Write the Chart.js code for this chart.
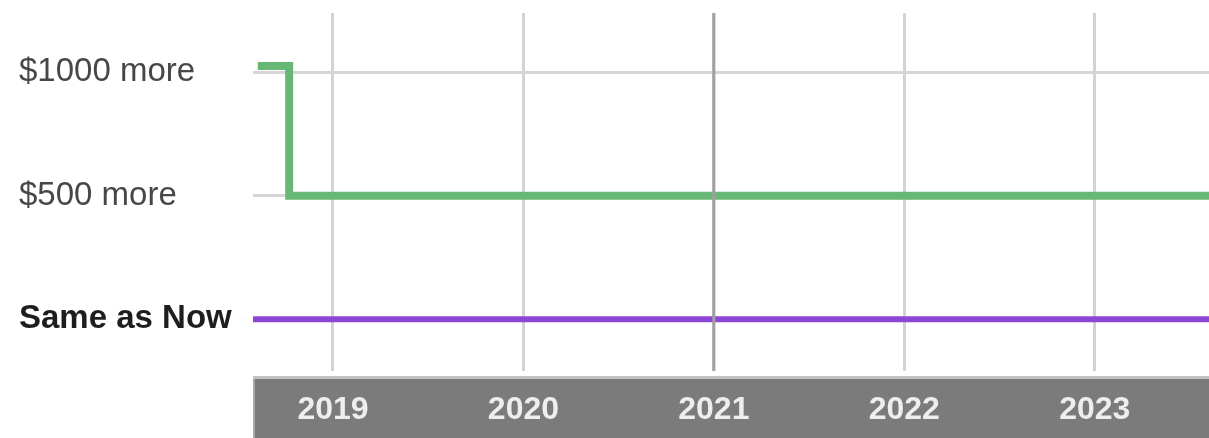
<!DOCTYPE html>
<html>
<head>
<meta charset="utf-8">
<script src="https://cdn.jsdelivr.net/npm/chart.js@4"></script>
<style>
  html, body { margin: 0; padding: 0; background: #ffffff; }
  #wrap { width: 1209px; height: 438px; position: relative; }
</style>
</head>
<body>
<div id="wrap"><canvas id="c"></canvas></div>
<script>
// ---- data ----
const yearTicks = [2019, 2020, 2021, 2022, 2023];
const highlightYear = 2021;
const levelValues = [0, 500, 1000];
const levelLabels = ['Same as Now', '$500 more', '$1000 more'];
const xRange = [2018.58, 2023.6];
const yRange = [-210, 1240];
const greenX = [2018.605, 2018.77, 2023.6];
const greenY = [1025, 500, 500];
const purpleX = [2018.58, 2023.6];
const purpleY = [0, 0];

const FONT = "'Liberation Sans', Arial, sans-serif";

const greenData = greenX.map((x, i) => ({ x: x, y: greenY[i] }));
const purpleData = purpleX.map((x, i) => ({ x: x, y: purpleY[i] }));

const axisBoxPlugin = {
  id: 'axisBox',
  beforeDraw(chart) {
    const { ctx, chartArea } = chart;
    const xs = chart.scales.x;
    const top = xs.top + 5;
    ctx.save();
    ctx.fillStyle = '#7b7b7b';
    ctx.fillRect(chartArea.left, top, chart.width - chartArea.left, chart.height - top);
    ctx.fillStyle = '#c2c2c2';
    ctx.fillRect(chartArea.left, top, chart.width - chartArea.left, 3);
    ctx.fillStyle = '#a8a8a8';
    ctx.fillRect(chartArea.left, top + 3, 2, chart.height - top - 3);
    ctx.restore();
  },
  afterDatasetsDraw(chart) {
    const { ctx, chartArea } = chart;
    const px = chart.scales.x.getPixelForValue(highlightYear);
    ctx.save();
    ctx.strokeStyle = '#a0a0a0';
    ctx.lineWidth = 3;
    ctx.beginPath();
    ctx.moveTo(px, chartArea.top);
    ctx.lineTo(px, chartArea.bottom);
    ctx.stroke();
    ctx.restore();
  }
};

new Chart(document.getElementById('c'), {
  type: 'line',
  data: {
    datasets: [
      {
        data: greenData,
        borderColor: '#66b874',
        borderWidth: 8,
        stepped: 'before',
        pointRadius: 0,
        fill: false,
        borderCapStyle: 'butt',
        borderJoinStyle: 'miter'
      },
      {
        data: purpleData,
        borderColor: '#8d45d6',
        borderWidth: 6,
        pointRadius: 0,
        fill: false
      }
    ]
  },
  options: {
    responsive: true,
    maintainAspectRatio: false,
    animation: false,
    events: [],
    layout: { padding: { left: 19, top: 13, right: 0, bottom: 0 } },
    plugins: { legend: { display: false }, tooltip: { enabled: false }, title: { display: false } },
    scales: {
      x: {
        type: 'linear',
        min: xRange[0],
        max: xRange[1],
        afterBuildTicks(scale) { scale.ticks = yearTicks.map(v => ({ value: v })); },
        afterFit(scale) { scale.height = 67; scale.paddingLeft = 0; scale.paddingRight = 0; },
        border: { display: false },
        grid: {
          drawTicks: false,
          lineWidth: 3,
          color: '#d3d3d3'
        },
        ticks: {
          padding: 20,
          maxRotation: 0,
          autoSkip: false,
          color: '#eeeeee',
          font: { family: FONT, size: 32, weight: 'bold' },
          callback: (v) => String(v)
        }
      },
      y: {
        type: 'linear',
        min: yRange[0],
        max: yRange[1],
        afterBuildTicks(scale) { scale.ticks = levelValues.map(v => ({ value: v })); },
        afterFit(scale) { scale.width = 234; scale.paddingTop = 0; scale.paddingBottom = 0; },
        border: { display: false },
        grid: {
          drawTicks: false,
          lineWidth: 3,
          color: '#d6d6d6'
        },
        ticks: {
          crossAlign: 'far',
          padding: 0,
          autoSkip: false,
          color: (c) => c.tick && c.tick.value === 0 ? '#1e1e1e' : '#474747',
          font: (c) => ({ family: FONT, size: 33, weight: (c.tick && c.tick.value === 0) ? 'bold' : 'normal' }),
          callback: (v) => { const i = levelValues.indexOf(v); return i >= 0 ? levelLabels[i] : ''; }
        }
      }
    }
  },
  plugins: [axisBoxPlugin]
});
</script>
</body>
</html>
